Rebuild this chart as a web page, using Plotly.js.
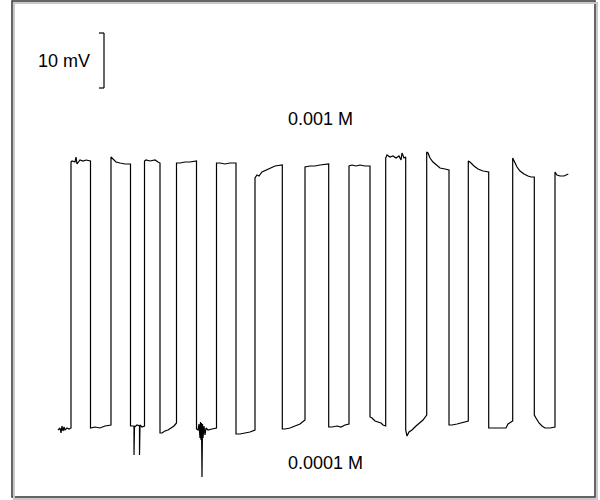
<!DOCTYPE html>
<html>
<head>
<meta charset="utf-8">
<script src="https://cdn.plot.ly/plotly-3.0.1.min.js"></script>
<style>html,body{margin:0;padding:0;background:#fff;}#chart{width:600px;height:500px;}</style>
</head>
<body>
<div id="chart"></div>
<script>
// Time (s) of each sample of the recorded trace
var timeS = [
  58,60,61,62,63,64,65,67,69,71,
  71,72,75,76,77,78,80,83,86,90.5,
  90.5,95,100,105,111,
  111,113,116,120,125,130.5,
  130.5,133,134,134,134.5,137,139.5,139.5,140,142,144.5,
  144.5,146,150,155,158,160,
  160,162,165,168,171,174,176.5,
  176.5,180,185,190,196.5,
  196.5,198,199,200,200.5,201,201.5,202,202.5,203,204,205,206,208,212,216.5,
  216.5,220,225,230,236,
  236,240,245,250,255,
  255,257,259,262,266,270,275,282.3,
  282.3,285,290,295,300,305,
  305,310,315,320,325,328.7,
  328.7,332,337,341,345,349,
  349,352,356,360,365,370,
  370,372,375,378,381,383,385.7,
  385.7,387,390,393,396,399,401,402,404,405.7,
  405.7,407,409,412,416,420,423,426.7,
  426.7,428,430,433,436,440,445,449,
  449,452,457,462,468.3,
  468.3,470,474,478,483,488.7,
  488.7,492,500,506,508,510,512.7,
  512.7,514,517,520,524,528,531,534.3,
  534.3,536,539,542,545,550,555,
  555,557,560,564,568.3
];
// Membrane potential (mV) of each sample
var potentialMV = [
  0.0,0.4,-0.6,0.8,-0.2,0.6,0.0,0.4,0.2,0.4,
  53.6,53.8,53.6,54.6,53.2,53.4,54.0,53.8,54.0,53.8,
  0.4,0.6,0.4,0.8,1.0,
  54.6,54.2,53.6,53.4,53.2,53.2,
  0.8,0.8,0.8,-5.0,0.6,1.0,0.8,-5.0,1.0,0.6,0.8,
  53.8,54.0,53.8,54.0,53.6,53.4,
  -0.6,-0.6,-0.2,0.0,0.4,0.8,1.4,
  53.4,53.4,53.6,53.6,53.8,
  0.2,0.0,1.2,-1.6,1.6,-2.0,1.4,-9.4,1.2,-1.6,0.8,-1.0,0.4,0.0,0.2,0.4,
  53.4,53.4,53.2,53.4,53.4,
  -0.8,-0.8,-0.6,-0.4,0.0,
  50.4,51.0,50.8,51.6,52.0,52.4,52.8,53.0,
  0.2,0.2,0.4,0.8,1.2,2.0,
  52.6,52.8,52.8,53.0,53.2,53.2,
  0.6,0.6,0.8,0.6,1.0,1.2,
  52.8,53.0,52.8,53.0,52.8,52.8,
  2.6,2.4,1.8,1.6,1.4,1.0,0.8,
  54.4,55.0,54.6,54.8,54.4,54.8,54.0,55.4,54.4,54.6,
  0.0,-1.2,-0.4,0.0,0.8,1.6,2.0,3.0,
  55.6,55.4,54.4,53.6,53.0,52.4,52.2,52.0,
  1.0,1.0,1.2,1.4,1.8,
  53.8,53.6,52.8,52.2,51.8,51.6,
  0.4,0.4,0.4,0.4,1.2,1.4,1.8,
  54.4,53.8,52.6,51.8,51.2,50.8,50.6,50.6,
  3.0,2.4,1.4,0.8,0.4,0.4,0.6,
  51.6,51.0,50.8,50.8,51.2
];
var labelHigh = "0.001 M";
var labelLow = "0.0001 M";
var scaleLabel = "10 mV";
var scaleBarMV = [68.4, 79.4];
var scaleBarTime = 104;
var labelHighPos = [320, 62.2];
var labelLowPos = [325, -6.6];

var trace = {
  x: timeS, y: potentialMV, type: 'scatter', mode: 'lines',
  line: {color: '#000', width: 1.2}, hoverinfo: 'skip'
};
var fnt = {family: 'Liberation Sans, Arial, sans-serif', size: 18, color: '#000'};
var layout = {
  width: 600, height: 500,
  margin: {l: 0, r: 0, t: 0, b: 0},
  paper_bgcolor: '#fff', plot_bgcolor: '#fff',
  showlegend: false,
  xaxis: {range: [0, 600], visible: false, fixedrange: true},
  yaxis: {range: [-14, 86], visible: false, fixedrange: true},
  shapes: [
    {type: 'rect', xref: 'paper', yref: 'paper', x0: 14/600, x1: 597/600, y0: 1 - 499/500, y1: 1 - 3/500,
      line: {color: '#c8c8c8', width: 2}},
    {type: 'rect', xref: 'paper', yref: 'paper', x0: 12/600, x1: 595/600, y0: 1 - 497/500, y1: 1 - 1/500,
      line: {color: '#333', width: 1.5}, fillcolor: '#fff', layer: 'below'},
    {type: 'line', xref: 'x', yref: 'y', x0: scaleBarTime, x1: scaleBarTime, y0: scaleBarMV[0], y1: scaleBarMV[1],
      line: {color: '#000', width: 1.2}},
    {type: 'line', xref: 'x', yref: 'y', x0: scaleBarTime - 5, x1: scaleBarTime, y0: scaleBarMV[0], y1: scaleBarMV[0],
      line: {color: '#000', width: 1.2}},
    {type: 'line', xref: 'x', yref: 'y', x0: scaleBarTime - 5, x1: scaleBarTime, y0: scaleBarMV[1], y1: scaleBarMV[1],
      line: {color: '#000', width: 1.2}}
  ],
  annotations: [
    {text: scaleLabel, x: 92, y: (scaleBarMV[0] + scaleBarMV[1]) / 2, xref: 'x', yref: 'y',
      xanchor: 'right', yanchor: 'middle', showarrow: false, font: fnt},
    {text: labelHigh, x: labelHighPos[0], y: labelHighPos[1], xref: 'x', yref: 'y',
      xanchor: 'center', yanchor: 'middle', showarrow: false, font: fnt},
    {text: labelLow, x: labelLowPos[0], y: labelLowPos[1], xref: 'x', yref: 'y',
      xanchor: 'center', yanchor: 'middle', showarrow: false, font: fnt}
  ]
};
Plotly.newPlot('chart', [trace], layout, {staticPlot: true, displayModeBar: false});
</script>
</body>
</html>
